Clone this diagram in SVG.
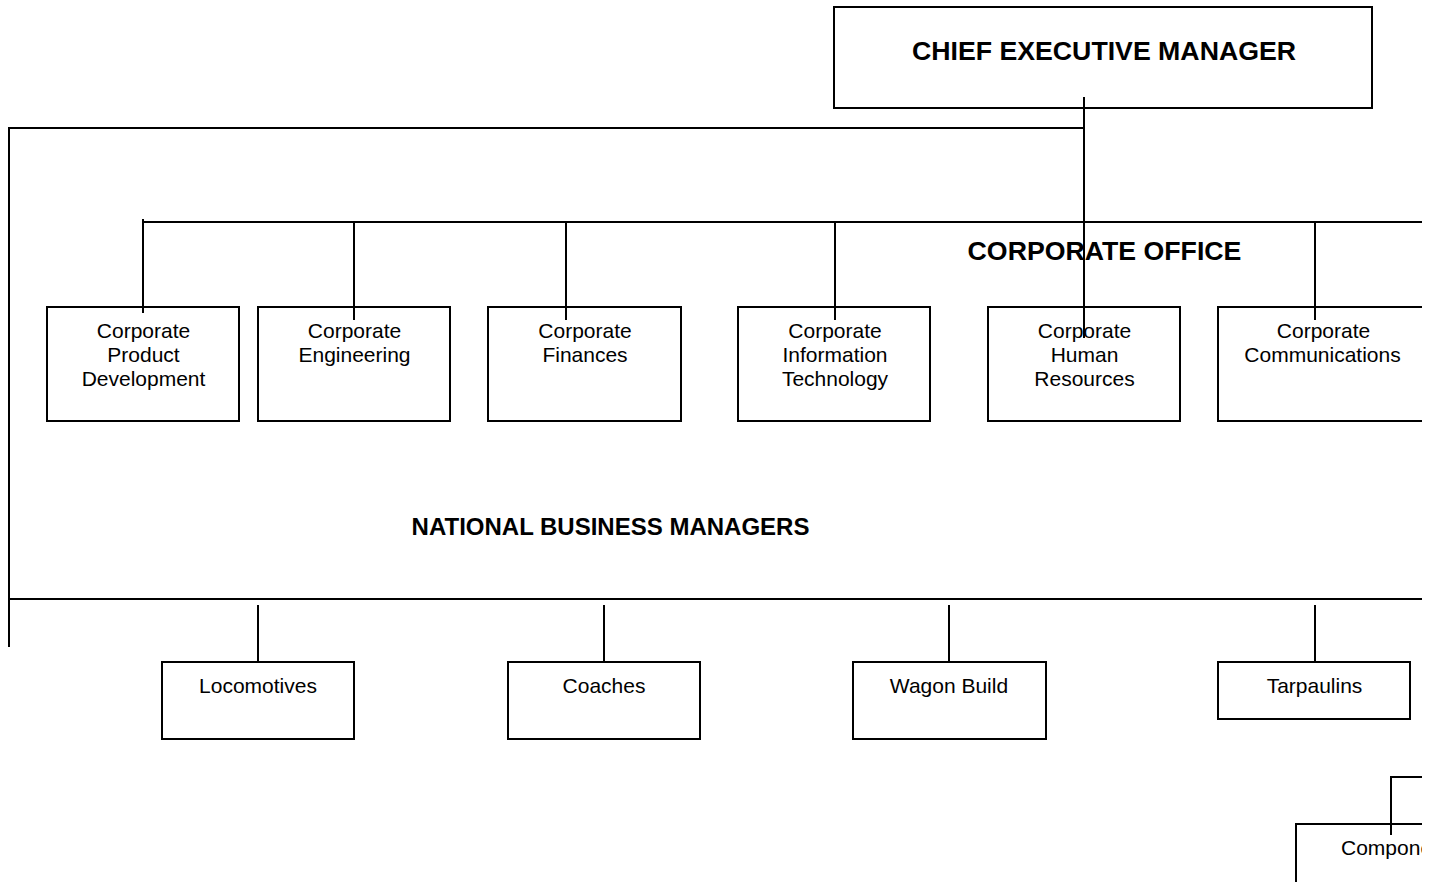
<svg xmlns="http://www.w3.org/2000/svg" width="1434" height="882" viewBox="0 0 1434 882">
<style>
.box{fill:#fff;stroke:#000;stroke-width:2}
.ln{fill:none;stroke:#000;stroke-width:2}
.t{font-family:"Liberation Sans",Arial,sans-serif;font-size:21px;fill:#000;text-anchor:middle}
.ts{text-anchor:start}
.h{font-family:"Liberation Sans",Arial,sans-serif;font-weight:bold;fill:#000;text-anchor:middle}
</style>
<defs>
<clipPath id="page"><rect x="0" y="0" width="1422" height="882"/></clipPath>
</defs>
<rect x="0" y="0" width="1434" height="882" fill="#fff"/>
<g clip-path="url(#page)">
<g id="ceo">
<rect class="box" x="834" y="7" width="538" height="101"/>
<text class="h" x="1104" y="60" font-size="26.7">CHIEF EXECUTIVE MANAGER</text>
</g>
<g id="label-corporate-office">
<text class="h" x="1104.5" y="260" font-size="26.7">CORPORATE OFFICE</text>
</g>
<g id="label-national">
<text class="h" x="610.5" y="535" font-size="24">NATIONAL BUSINESS MANAGERS</text>
</g>
<g id="cpd">
<rect class="box" x="47" y="307" width="192" height="114"/>
<text class="t" x="143.5" y="338">Corporate</text>
<text class="t" x="143.5" y="362">Product</text>
<text class="t" x="143.5" y="386">Development</text>
</g>
<g id="ceng">
<rect class="box" x="258" y="307" width="192" height="114"/>
<text class="t" x="354.5" y="338">Corporate</text>
<text class="t" x="354.5" y="362">Engineering</text>
</g>
<g id="cfin">
<rect class="box" x="488" y="307" width="193" height="114"/>
<text class="t" x="585" y="338">Corporate</text>
<text class="t" x="585" y="362">Finances</text>
</g>
<g id="cit">
<rect class="box" x="738" y="307" width="192" height="114"/>
<text class="t" x="835" y="338">Corporate</text>
<text class="t" x="835" y="362">Information</text>
<text class="t" x="835" y="386">Technology</text>
</g>
<g id="chr">
<rect class="box" x="988" y="307" width="192" height="114"/>
<text class="t" x="1084.5" y="338">Corporate</text>
<text class="t" x="1084.5" y="362">Human</text>
<text class="t" x="1084.5" y="386">Resources</text>
</g>
<g id="ccomm">
<rect class="box" x="1218" y="307" width="240" height="114"/>
<text class="t" x="1323.5" y="338">Corporate</text>
<text class="t" x="1322.5" y="362">Communications</text>
</g>
<g id="loco">
<rect class="box" x="162" y="662" width="192" height="77"/>
<text class="t" x="258" y="693">Locomotives</text>
</g>
<g id="coaches">
<rect class="box" x="508" y="662" width="192" height="77"/>
<text class="t" x="604" y="693">Coaches</text>
</g>
<g id="wagon">
<rect class="box" x="853" y="662" width="193" height="77"/>
<text class="t" x="949" y="693">Wagon Build</text>
</g>
<g id="tarp">
<rect class="box" x="1218" y="662" width="192" height="57"/>
<text class="t" x="1314.5" y="693">Tarpaulins</text>
</g>
<g id="components">
<rect class="box" x="1296" y="824" width="192" height="80"/>
<text class="t ts" x="1341" y="855">Components</text>
</g>
<g id="connectors">
<path class="ln" d="M1084 97 V338"/>
<path class="ln" d="M1084 128 H9 V647"/>
<path class="ln" d="M143 219 V313 M143 222 H1422"/>
<path class="ln" d="M354 222 V320 M566 222 V320 M835 222 V320 M1315 222 V320"/>
<path class="ln" d="M9 599 H1422"/>
<path class="ln" d="M258 605 V662 M604 605 V662 M949 605 V662 M1315 605 V662"/>
<path class="ln" d="M1422 777 H1391 V835"/>
</g>
</g>
</svg>
